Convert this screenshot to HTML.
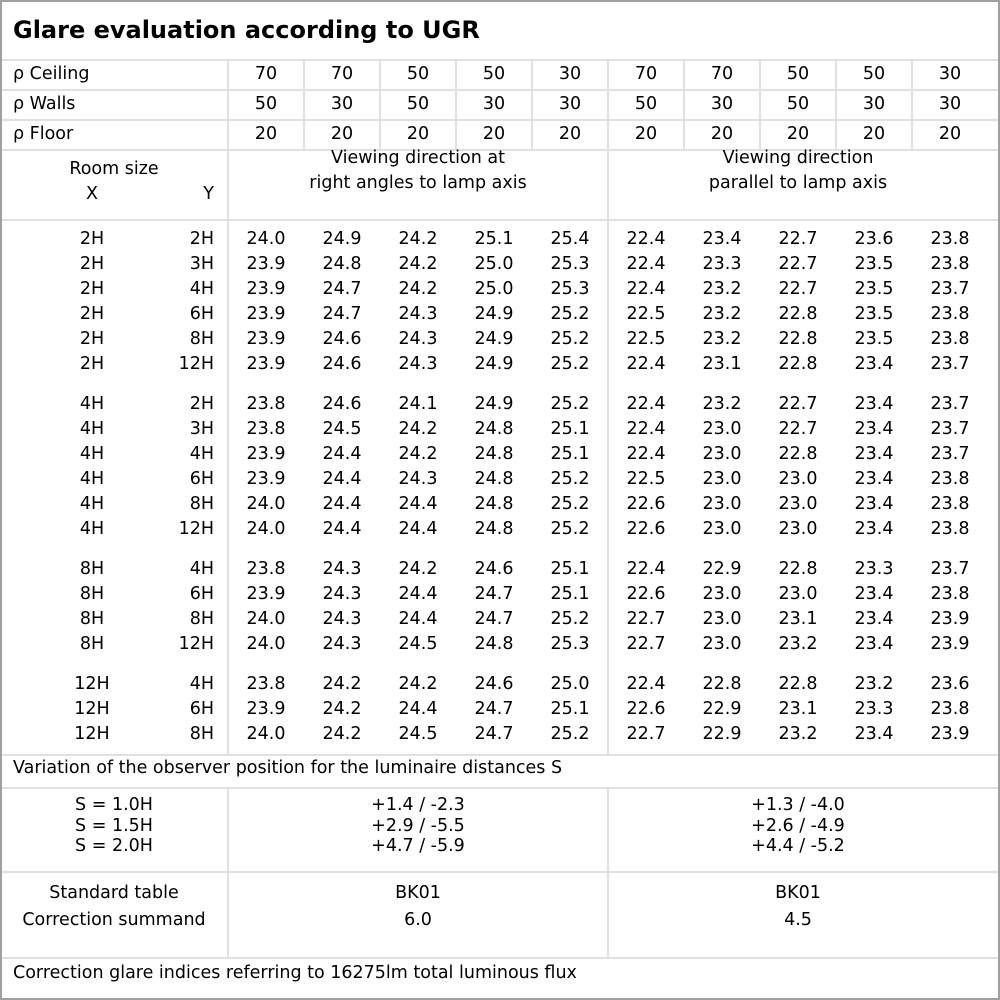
<!DOCTYPE html>
<html><head><meta charset="utf-8"><style>
body{margin:0;background:#fff}
#c{position:relative;width:1000px;height:1000px;font-family:"DejaVu Sans","Liberation Sans",sans-serif;font-size:17.5px;color:#000;overflow:hidden}
.b{position:absolute;left:0;top:0;width:996px;height:996px;border:2px solid #a0a0a0}
.h{position:absolute;height:2px;background:#e0e0e0;left:2px;width:996px}
.v{position:absolute;width:2px;background:#e0e0e0}
.t{position:absolute;white-space:nowrap;line-height:25px}
.r{position:absolute;left:0;height:25px;line-height:25px;white-space:nowrap}
.r span{position:absolute;top:0;text-align:center;width:76px}
.r .x{left:0;width:184px}
.r .y{left:150px;width:64px;text-align:right}
.ctr{text-align:center}
</style></head><body><div id="c">
<div class="b"></div>
<div class="t" style="left:13px;top:14px;font-size:24px;font-weight:bold;line-height:32px">Glare evaluation according to UGR</div>
<div class="h" style="top:59px"></div>
<div class="h" style="top:89px"></div>
<div class="h" style="top:119px"></div>
<div class="h" style="top:149px"></div>
<div class="h" style="top:219px"></div>
<div class="h" style="top:754px"></div>
<div class="h" style="top:787px"></div>
<div class="h" style="top:871px"></div>
<div class="h" style="top:957px"></div>
<div class="v" style="left:227px;top:60px;height:695px"></div>
<div class="v" style="left:607px;top:150px;height:605px"></div>
<div class="v" style="left:227px;top:788px;height:170px"></div>
<div class="v" style="left:607px;top:788px;height:170px"></div>
<div class="v" style="left:303px;top:60px;height:90px"></div>
<div class="v" style="left:379px;top:60px;height:90px"></div>
<div class="v" style="left:455px;top:60px;height:90px"></div>
<div class="v" style="left:531px;top:60px;height:90px"></div>
<div class="v" style="left:607px;top:60px;height:90px"></div>
<div class="v" style="left:683px;top:60px;height:90px"></div>
<div class="v" style="left:759px;top:60px;height:90px"></div>
<div class="v" style="left:835px;top:60px;height:90px"></div>
<div class="v" style="left:911px;top:60px;height:90px"></div>

<div class="r" style="top:62px"><span class="x" style="text-align:left;left:13px">ρ Ceiling</span><span style="left:228px">70</span><span style="left:304px">70</span><span style="left:380px">50</span><span style="left:456px">50</span><span style="left:532px">30</span><span style="left:608px">70</span><span style="left:684px">70</span><span style="left:760px">50</span><span style="left:836px">50</span><span style="left:912px">30</span></div>
<div class="r" style="top:92px"><span class="x" style="text-align:left;left:13px">ρ Walls</span><span style="left:228px">50</span><span style="left:304px">30</span><span style="left:380px">50</span><span style="left:456px">30</span><span style="left:532px">30</span><span style="left:608px">50</span><span style="left:684px">30</span><span style="left:760px">50</span><span style="left:836px">30</span><span style="left:912px">30</span></div>
<div class="r" style="top:122px"><span class="x" style="text-align:left;left:13px">ρ Floor</span><span style="left:228px">20</span><span style="left:304px">20</span><span style="left:380px">20</span><span style="left:456px">20</span><span style="left:532px">20</span><span style="left:608px">20</span><span style="left:684px">20</span><span style="left:760px">20</span><span style="left:836px">20</span><span style="left:912px">20</span></div>

<div class="t ctr" style="left:0;width:228px;top:157px">Room size</div>
<div class="r" style="top:182px"><span class="x">X</span><span class="y">Y</span></div>
<div class="t ctr" style="left:228px;width:380px;top:146px">Viewing direction at<br>right angles to lamp axis</div>
<div class="t ctr" style="left:608px;width:380px;top:146px">Viewing direction<br>parallel to lamp axis</div>

<div class="r" style="top:227px"><span class="x">2H</span><span class="y">2H</span><span style="left:228px">24.0</span><span style="left:304px">24.9</span><span style="left:380px">24.2</span><span style="left:456px">25.1</span><span style="left:532px">25.4</span><span style="left:608px">22.4</span><span style="left:684px">23.4</span><span style="left:760px">22.7</span><span style="left:836px">23.6</span><span style="left:912px">23.8</span></div>
<div class="r" style="top:252px"><span class="x">2H</span><span class="y">3H</span><span style="left:228px">23.9</span><span style="left:304px">24.8</span><span style="left:380px">24.2</span><span style="left:456px">25.0</span><span style="left:532px">25.3</span><span style="left:608px">22.4</span><span style="left:684px">23.3</span><span style="left:760px">22.7</span><span style="left:836px">23.5</span><span style="left:912px">23.8</span></div>
<div class="r" style="top:277px"><span class="x">2H</span><span class="y">4H</span><span style="left:228px">23.9</span><span style="left:304px">24.7</span><span style="left:380px">24.2</span><span style="left:456px">25.0</span><span style="left:532px">25.3</span><span style="left:608px">22.4</span><span style="left:684px">23.2</span><span style="left:760px">22.7</span><span style="left:836px">23.5</span><span style="left:912px">23.7</span></div>
<div class="r" style="top:302px"><span class="x">2H</span><span class="y">6H</span><span style="left:228px">23.9</span><span style="left:304px">24.7</span><span style="left:380px">24.3</span><span style="left:456px">24.9</span><span style="left:532px">25.2</span><span style="left:608px">22.5</span><span style="left:684px">23.2</span><span style="left:760px">22.8</span><span style="left:836px">23.5</span><span style="left:912px">23.8</span></div>
<div class="r" style="top:327px"><span class="x">2H</span><span class="y">8H</span><span style="left:228px">23.9</span><span style="left:304px">24.6</span><span style="left:380px">24.3</span><span style="left:456px">24.9</span><span style="left:532px">25.2</span><span style="left:608px">22.5</span><span style="left:684px">23.2</span><span style="left:760px">22.8</span><span style="left:836px">23.5</span><span style="left:912px">23.8</span></div>
<div class="r" style="top:352px"><span class="x">2H</span><span class="y">12H</span><span style="left:228px">23.9</span><span style="left:304px">24.6</span><span style="left:380px">24.3</span><span style="left:456px">24.9</span><span style="left:532px">25.2</span><span style="left:608px">22.4</span><span style="left:684px">23.1</span><span style="left:760px">22.8</span><span style="left:836px">23.4</span><span style="left:912px">23.7</span></div>

<div class="r" style="top:392px"><span class="x">4H</span><span class="y">2H</span><span style="left:228px">23.8</span><span style="left:304px">24.6</span><span style="left:380px">24.1</span><span style="left:456px">24.9</span><span style="left:532px">25.2</span><span style="left:608px">22.4</span><span style="left:684px">23.2</span><span style="left:760px">22.7</span><span style="left:836px">23.4</span><span style="left:912px">23.7</span></div>
<div class="r" style="top:417px"><span class="x">4H</span><span class="y">3H</span><span style="left:228px">23.8</span><span style="left:304px">24.5</span><span style="left:380px">24.2</span><span style="left:456px">24.8</span><span style="left:532px">25.1</span><span style="left:608px">22.4</span><span style="left:684px">23.0</span><span style="left:760px">22.7</span><span style="left:836px">23.4</span><span style="left:912px">23.7</span></div>
<div class="r" style="top:442px"><span class="x">4H</span><span class="y">4H</span><span style="left:228px">23.9</span><span style="left:304px">24.4</span><span style="left:380px">24.2</span><span style="left:456px">24.8</span><span style="left:532px">25.1</span><span style="left:608px">22.4</span><span style="left:684px">23.0</span><span style="left:760px">22.8</span><span style="left:836px">23.4</span><span style="left:912px">23.7</span></div>
<div class="r" style="top:467px"><span class="x">4H</span><span class="y">6H</span><span style="left:228px">23.9</span><span style="left:304px">24.4</span><span style="left:380px">24.3</span><span style="left:456px">24.8</span><span style="left:532px">25.2</span><span style="left:608px">22.5</span><span style="left:684px">23.0</span><span style="left:760px">23.0</span><span style="left:836px">23.4</span><span style="left:912px">23.8</span></div>
<div class="r" style="top:492px"><span class="x">4H</span><span class="y">8H</span><span style="left:228px">24.0</span><span style="left:304px">24.4</span><span style="left:380px">24.4</span><span style="left:456px">24.8</span><span style="left:532px">25.2</span><span style="left:608px">22.6</span><span style="left:684px">23.0</span><span style="left:760px">23.0</span><span style="left:836px">23.4</span><span style="left:912px">23.8</span></div>
<div class="r" style="top:517px"><span class="x">4H</span><span class="y">12H</span><span style="left:228px">24.0</span><span style="left:304px">24.4</span><span style="left:380px">24.4</span><span style="left:456px">24.8</span><span style="left:532px">25.2</span><span style="left:608px">22.6</span><span style="left:684px">23.0</span><span style="left:760px">23.0</span><span style="left:836px">23.4</span><span style="left:912px">23.8</span></div>

<div class="r" style="top:557px"><span class="x">8H</span><span class="y">4H</span><span style="left:228px">23.8</span><span style="left:304px">24.3</span><span style="left:380px">24.2</span><span style="left:456px">24.6</span><span style="left:532px">25.1</span><span style="left:608px">22.4</span><span style="left:684px">22.9</span><span style="left:760px">22.8</span><span style="left:836px">23.3</span><span style="left:912px">23.7</span></div>
<div class="r" style="top:582px"><span class="x">8H</span><span class="y">6H</span><span style="left:228px">23.9</span><span style="left:304px">24.3</span><span style="left:380px">24.4</span><span style="left:456px">24.7</span><span style="left:532px">25.1</span><span style="left:608px">22.6</span><span style="left:684px">23.0</span><span style="left:760px">23.0</span><span style="left:836px">23.4</span><span style="left:912px">23.8</span></div>
<div class="r" style="top:607px"><span class="x">8H</span><span class="y">8H</span><span style="left:228px">24.0</span><span style="left:304px">24.3</span><span style="left:380px">24.4</span><span style="left:456px">24.7</span><span style="left:532px">25.2</span><span style="left:608px">22.7</span><span style="left:684px">23.0</span><span style="left:760px">23.1</span><span style="left:836px">23.4</span><span style="left:912px">23.9</span></div>
<div class="r" style="top:632px"><span class="x">8H</span><span class="y">12H</span><span style="left:228px">24.0</span><span style="left:304px">24.3</span><span style="left:380px">24.5</span><span style="left:456px">24.8</span><span style="left:532px">25.3</span><span style="left:608px">22.7</span><span style="left:684px">23.0</span><span style="left:760px">23.2</span><span style="left:836px">23.4</span><span style="left:912px">23.9</span></div>

<div class="r" style="top:672px"><span class="x">12H</span><span class="y">4H</span><span style="left:228px">23.8</span><span style="left:304px">24.2</span><span style="left:380px">24.2</span><span style="left:456px">24.6</span><span style="left:532px">25.0</span><span style="left:608px">22.4</span><span style="left:684px">22.8</span><span style="left:760px">22.8</span><span style="left:836px">23.2</span><span style="left:912px">23.6</span></div>
<div class="r" style="top:697px"><span class="x">12H</span><span class="y">6H</span><span style="left:228px">23.9</span><span style="left:304px">24.2</span><span style="left:380px">24.4</span><span style="left:456px">24.7</span><span style="left:532px">25.1</span><span style="left:608px">22.6</span><span style="left:684px">22.9</span><span style="left:760px">23.1</span><span style="left:836px">23.3</span><span style="left:912px">23.8</span></div>
<div class="r" style="top:722px"><span class="x">12H</span><span class="y">8H</span><span style="left:228px">24.0</span><span style="left:304px">24.2</span><span style="left:380px">24.5</span><span style="left:456px">24.7</span><span style="left:532px">25.2</span><span style="left:608px">22.7</span><span style="left:684px">22.9</span><span style="left:760px">23.2</span><span style="left:836px">23.4</span><span style="left:912px">23.9</span></div>

<div class="t" style="left:13px;top:756px">Variation of the observer position for the luminaire distances S</div>
<div class="t ctr" style="left:0;width:228px;top:795px;line-height:20.5px">S = 1.0H<br>S = 1.5H<br>S = 2.0H</div>
<div class="t ctr" style="left:228px;width:380px;top:795px;line-height:20.5px">+1.4 / -2.3<br>+2.9 / -5.5<br>+4.7 / -5.9</div>
<div class="t ctr" style="left:608px;width:380px;top:795px;line-height:20.5px">+1.3 / -4.0<br>+2.6 / -4.9<br>+4.4 / -5.2</div>
<div class="t ctr" style="left:0;width:228px;top:880px;line-height:27px">Standard table<br>Correction summand</div>
<div class="t ctr" style="left:228px;width:380px;top:880px;line-height:27px">BK01<br>6.0</div>
<div class="t ctr" style="left:608px;width:380px;top:880px;line-height:27px">BK01<br>4.5</div>
<div class="t" style="left:13px;top:961px">Correction glare indices referring to 16275lm total luminous flux</div>
</div></body></html>
